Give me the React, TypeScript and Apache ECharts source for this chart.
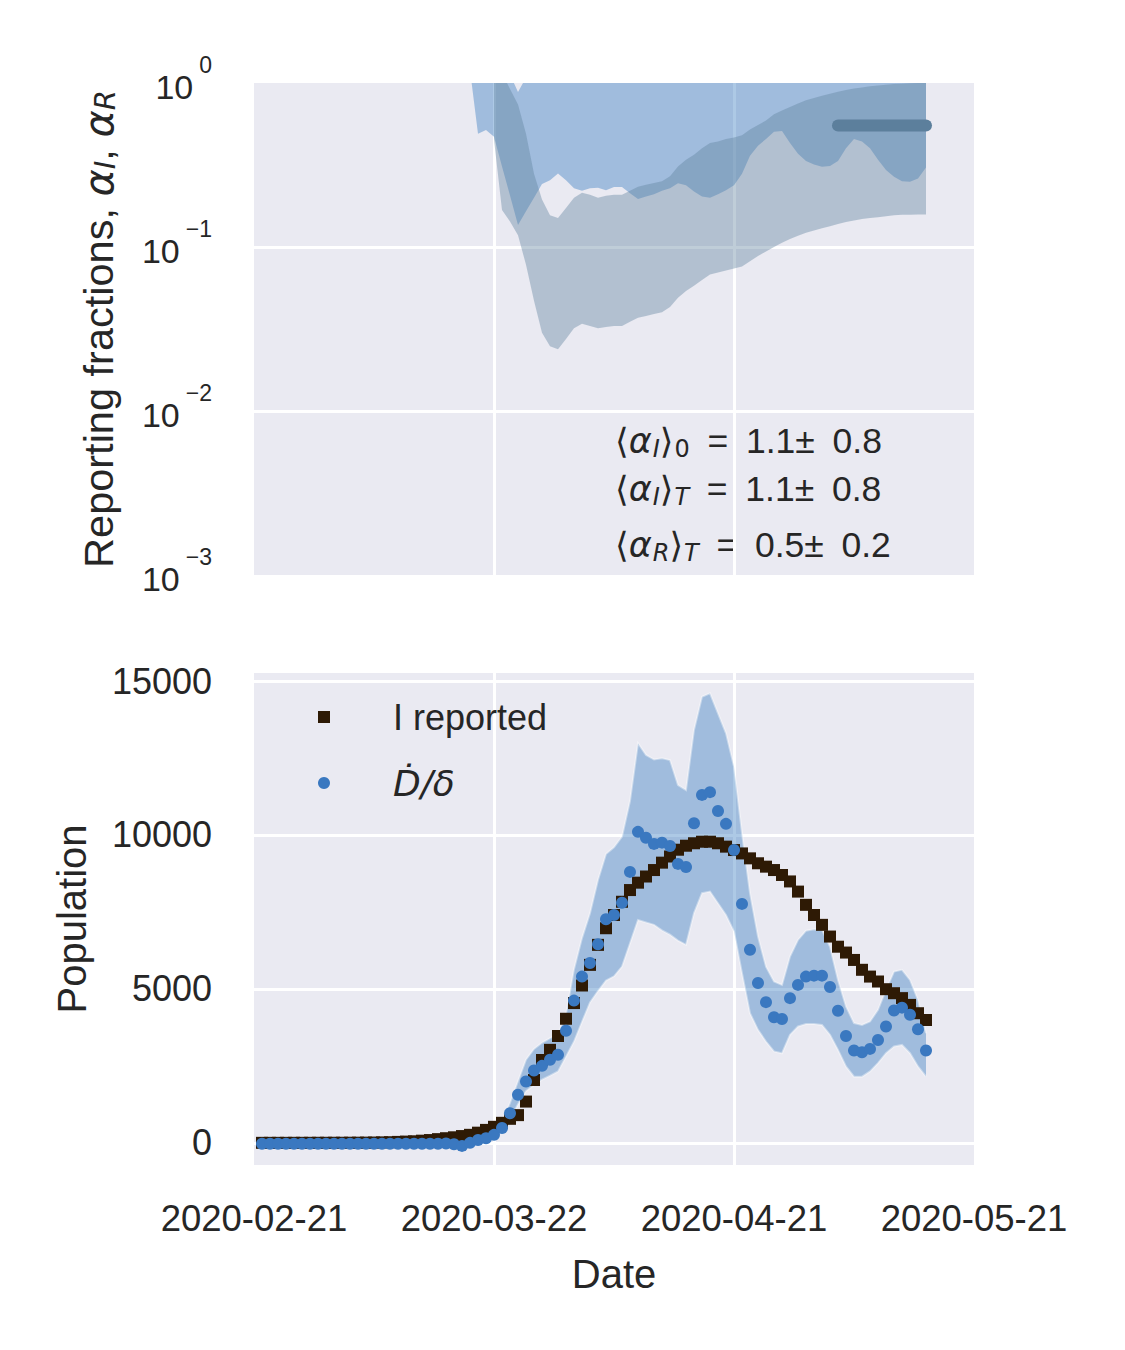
import React, { useEffect, useRef } from 'react';
import * as echarts from 'echarts';

// ---------- data ----------
const X_TICK_LABELS = ['2020-02-21', '2020-03-22', '2020-04-21', '2020-05-21'];

// Top panel: reporting fractions (days since 2020-02-21)
const ALPHA_I_START = 27;
const ALPHA_I_LOW = [1.2, 0.49, 0.517, 0.47, 0.31, 0.206, 0.136, 0.165, 0.2, 0.242, 0.255, 0.281, 0.255, 0.228, 0.22, 0.228, 0.23, 0.222, 0.232, 0.232, 0.213, 0.196, 0.203, 0.21, 0.22, 0.228, 0.245, 0.238, 0.218, 0.203, 0.2, 0.21, 0.222, 0.238, 0.28, 0.36, 0.415, 0.455, 0.505, 0.51, 0.43, 0.37, 0.335, 0.318, 0.309, 0.312, 0.335, 0.4, 0.455, 0.44, 0.4, 0.34, 0.295, 0.268, 0.252, 0.25, 0.262, 0.305];
const ALPHA_I_HIGH = [3, 3, 3, 3, 3, 1.13, 0.88, 1.08, 3, 3, 3, 3, 3, 3, 3, 3, 3, 3, 3, 3, 3, 3, 3, 3, 3, 3, 3, 3, 3, 3, 3, 3, 3, 3, 3, 3, 3, 3, 3, 3, 3, 3, 3, 3, 3, 3, 3, 3, 3, 3, 3, 3, 3, 3, 3, 3, 3, 3];
const ALPHA_R_START = 30;
const ALPHA_R_LOW = [0.45, 0.168, 0.143, 0.118, 0.078, 0.047, 0.03, 0.0248, 0.0238, 0.0275, 0.032, 0.034, 0.033, 0.032, 0.0325, 0.033, 0.033, 0.035, 0.037, 0.038, 0.039, 0.04, 0.043, 0.049, 0.054, 0.058, 0.063, 0.068, 0.07, 0.072, 0.074, 0.076, 0.082, 0.088, 0.094, 0.1, 0.106, 0.112, 0.117, 0.122, 0.126, 0.13, 0.134, 0.138, 0.142, 0.145, 0.148, 0.15, 0.152, 0.154, 0.156, 0.157, 0.157, 0.158, 0.158];
const ALPHA_R_HIGH = [2.8, 1.15, 0.92, 0.74, 0.49, 0.28, 0.195, 0.156, 0.15, 0.173, 0.2, 0.214, 0.208, 0.2, 0.205, 0.208, 0.208, 0.22, 0.233, 0.24, 0.246, 0.252, 0.27, 0.31, 0.34, 0.365, 0.4, 0.43, 0.44, 0.455, 0.466, 0.48, 0.52, 0.555, 0.59, 0.645, 0.68, 0.715, 0.75, 0.785, 0.81, 0.835, 0.86, 0.885, 0.905, 0.925, 0.94, 0.955, 0.967, 0.977, 0.985, 0.99, 0.995, 1.0, 1.0];
const ALPHA_R_MEAN_DAYS = [73, 84];
const ALPHA_R_MEAN = 0.55;

const ANNOT_NAMES = [['I', '0'], ['I', 'T'], ['R', 'T']];
const ANNOT_VALUES = [['1.1', '0.8'], ['1.1', '0.8'], ['0.5', '0.2']];

// Bottom panel: populations, days 1..84
const DATA_START = 1;
const I_REPORTED = [
  0, 0, 0, 0, 1, 1, 1, 2, 2, 3,
  3, 4, 5, 7, 10, 15, 20, 30, 40, 50,
  70, 90, 120, 150, 180, 220, 260, 330, 420, 520,
  650, 780, 900, 1340, 2040, 2690, 3020, 3470, 4030, 4540,
  5110, 5780, 6430, 6970, 7400, 7830, 8210, 8450, 8650, 8860,
  9100, 9300, 9520, 9650, 9730, 9780, 9780, 9730, 9620, 9510,
  9400, 9240, 9080, 8970, 8860, 8700, 8490, 8160, 7730, 7400,
  7080, 6700, 6370, 6180, 5940, 5620, 5400, 5240, 4990, 4860,
  4700, 4480, 4210, 3990,
];
const D_OVER_DELTA = [
  -30, -30, -30, -30, -30, -30, -30, -30, -30, -30,
  -30, -30, -30, -30, -30, -30, -30, -30, -30, -30,
  -30, -30, -30, -20, -45, -100, 0, 90, 150, 260,
  480, 960, 1560, 1990, 2350, 2500, 2700, 2860, 3640, 4620,
  5400, 5840, 6450, 7260, 7400, 7800, 8800, 10100, 9910, 9710,
  9750, 9640, 9060, 8960, 10380, 11300, 11390, 10780, 10360, 9510,
  7760, 6270, 5190, 4570, 4080, 4020, 4700, 5130, 5400, 5430,
  5430, 5060, 4290, 3470, 3000, 2940, 3050, 3340, 3780, 4300,
  4390, 4160, 3690, 3000,
];
const BAND_START = 26;
const BAND_LOW = [
  -130, -30, 40, 80, 150,
  380, 760, 1250, 1680, 1880, 2050, 2180, 2320, 2800, 3290,
  3930, 4560, 4930, 5270, 5410, 5725, 6480, 7240, 7160, 7080,
  6900, 6760, 6570, 6430, 7460, 8110, 8160, 7780, 7400, 6860,
  5510, 4210, 3670, 3290, 2970, 2910, 3510, 3780, 3860, 3860,
  3830, 3510, 3020, 2480, 2150, 2150, 2320, 2590, 2910, 3130,
  3180, 2910, 2480, 2150,
];
const BAND_HIGH = [
  -70, 50, 150, 250, 420,
  700, 1300, 2000, 2700, 3050, 3250, 3400, 3530, 4180, 5640,
  6650, 7460, 8540, 9380, 9600, 9950, 11100, 12980, 12600, 12450,
  12490, 12430, 11620, 11460, 13410, 14490, 14600, 13950, 13300, 12220,
  10060, 8110, 6700, 5720, 5240, 5130, 6050, 6590, 6890, 6940,
  6920, 6370, 5290, 4430, 3890, 3830, 3940, 4320, 4970, 5560,
  5620, 5290, 4640, 3560,
];
const Y_BOTTOM_TICKS = [0, 5000, 10000, 15000];

// ---------- styling ----------
const FONT = "'Liberation Sans', Arial, Helvetica, sans-serif";
const MATH = "'DejaVu Sans', 'Liberation Sans', sans-serif";
const TEXT = '#262626';
const BG = '#eaeaf2';
const BLUE_FILL = 'rgba(51,119,190,0.4)';
const SLATE_FILL = 'rgba(96,129,157,0.4)';
const SLATE = '#5c7f9c';
const DOT = '#3a78c0';
const SQUARE = '#2e1a05';

function rows(start: number, low: number[], high: number[]) {
  return low.map((v, i) => [start + i, v, high[i]]);
}
function pairs(start: number, vals: number[]) {
  return vals.map((v, i) => [start + i, v]);
}

function bandRender(data: number[][], fill: string, edge?: string) {
  return (params: any, api: any) => {
    if (params.dataIndex !== 0) return null;
    const upper = data.map((r) => api.coord([r[0], r[2]]));
    const lower = data.map((r) => api.coord([r[0], r[1]]));
    const cs = params.coordSys;
    const children: any[] = [
      { type: 'polygon', shape: { points: upper.concat(lower.slice().reverse()) }, style: { fill }, silent: true },
    ];
    if (edge) {
      children.push({ type: 'polyline', shape: { points: upper }, style: { stroke: edge, lineWidth: 2, fill: null }, silent: true });
      children.push({ type: 'polyline', shape: { points: lower }, style: { stroke: edge, lineWidth: 2, fill: null }, silent: true });
    }
    return {
      type: 'group',
      clipPath: { type: 'rect', shape: { x: cs.x, y: cs.y, width: cs.width, height: cs.height } },
      children,
    };
  };
}

function annotText(k: number) {
  const [a, b] = ANNOT_NAMES[k];
  const [m, s] = ANNOT_VALUES[k];
  const bTok = b === '0' ? 'r' : 's';
  return `{m|\u27e8}{a|α}{s|${a}}{m|\u27e9}{${bTok}|${b}}{n|\u2002=\u2002${m}±\u2002${s}}`;
}

const annotRich = {
  n: { fontSize: 35.5, fontFamily: FONT, lineHeight: 40, fill: TEXT },
  m: { fontSize: 35, fontFamily: MATH, lineHeight: 40, fill: TEXT },
  a: { fontSize: 35, fontFamily: MATH, fontStyle: 'italic', lineHeight: 40, fill: TEXT },
  s: { fontSize: 24, fontFamily: MATH, fontStyle: 'italic', lineHeight: 24, padding: [16, 0, 0, 1], fill: TEXT },
  r: { fontSize: 24, fontFamily: MATH, lineHeight: 24, padding: [16, 0, 0, 1], fill: TEXT },
};
const ANNOT_Y = [441, 489, 545];

const splitLine = { show: true, showMinLine: false, showMaxLine: false, lineStyle: { color: '#ffffff', width: 3 } };

const option: any = {
  animation: false,
  backgroundColor: '#ffffff',
  grid: [
    { left: 254, top: 83, width: 720, height: 492, show: true, backgroundColor: BG, borderWidth: 0 },
    { left: 254, top: 673, width: 720, height: 492, show: true, backgroundColor: BG, borderWidth: 0 },
  ],
  xAxis: [
    {
      gridIndex: 0, type: 'value', min: 0, max: 90, interval: 30,
      axisLine: { show: false }, axisTick: { show: false }, axisLabel: { show: false }, splitLine,
    },
    {
      gridIndex: 1, type: 'value', min: 0, max: 90, interval: 30,
      axisLine: { show: false }, axisTick: { show: false }, splitLine,
      axisLabel: {
        show: true, showMinLabel: true, showMaxLabel: true, margin: 35,
        fontSize: 36.5, fontFamily: FONT, color: TEXT,
        formatter: (v: number) => X_TICK_LABELS[Math.round(v / 30)] ?? '',
      },
      name: 'Date', nameLocation: 'middle', nameGap: 89,
      nameTextStyle: { fontSize: 40, fontFamily: FONT, color: TEXT },
    },
  ],
  yAxis: [
    {
      gridIndex: 0, type: 'log', logBase: 10, min: 0.001, max: 1,
      axisLine: { show: false }, axisTick: { show: false }, splitLine,
      axisLabel: {
        margin: 42,
        formatter: (v: number) => {
          const e = Math.round(Math.log10(v));
          return `{b|10}{s|${e < 0 ? '\u2212' + -e : e}}`;
        },
        rich: {
          b: { fontSize: 34, fontFamily: FONT, color: TEXT, lineHeight: 36, padding: [8, 0, 0, 0] },
          s: { fontSize: 23, fontFamily: FONT, color: TEXT, lineHeight: 23, padding: [0, 0, 36, 6] },
        },
      },
      name: 'Reporting fractions, {i|α}{u|I}, {i|α}{u|R}',
      nameLocation: 'middle', nameRotate: 90, nameGap: 134,
      nameTextStyle: {
        fontSize: 41.5, fontFamily: FONT, color: TEXT, lineHeight: 44,
        rich: {
          i: { fontSize: 41.5, fontFamily: MATH, fontStyle: 'italic', color: TEXT, lineHeight: 44 },
          u: { fontSize: 29, fontFamily: MATH, fontStyle: 'italic', color: TEXT, lineHeight: 29, padding: [14, 0, 0, 0] },
        },
      },
    },
    {
      gridIndex: 1, type: 'value', min: -720, max: 15260, splitNumber: 3,
      axisLine: { show: false }, axisTick: { show: false }, splitLine,
      axisLabel: {
        margin: 42, fontSize: 36, fontFamily: FONT, color: TEXT,
        formatter: (v: number) => (Y_BOTTOM_TICKS.indexOf(v) >= 0 ? String(v) : ''),
      },
      name: 'Population', nameLocation: 'middle', nameRotate: 90, nameGap: 162,
      nameTextStyle: { fontSize: 40, fontFamily: FONT, color: TEXT },
    },
  ],
  legend: {
    data: ['I reported', 'Ḋ/δ'],
    orient: 'vertical', left: 313, top: 694,
    itemWidth: 12, itemHeight: 12, itemGap: 30, selectedMode: false,
    formatter: (n: string) => (n === 'Ḋ/δ' ? '{it|Ḋ/δ}' : n),
    textStyle: {
      fontSize: 36, lineHeight: 36, fontFamily: FONT, color: TEXT, padding: [0, 0, 0, 58],
      rich: { it: { fontSize: 36, lineHeight: 36, fontFamily: MATH, fontStyle: 'italic', color: TEXT } },
    },
  },
  graphic: ANNOT_Y.map((y, k) => ({
    type: 'text', x: 615, y, silent: true,
    style: { text: annotText(k), rich: annotRich, verticalAlign: 'middle', fill: TEXT, fontSize: 35, fontFamily: FONT },
  })),
  series: [
    {
      type: 'custom', name: 'alphaI', xAxisIndex: 0, yAxisIndex: 0, silent: true,
      data: rows(ALPHA_I_START, ALPHA_I_LOW, ALPHA_I_HIGH), encode: { x: 0, y: [1, 2] },
      renderItem: bandRender(rows(ALPHA_I_START, ALPHA_I_LOW, ALPHA_I_HIGH), BLUE_FILL),
    },
    {
      type: 'custom', name: 'alphaR', xAxisIndex: 0, yAxisIndex: 0, silent: true,
      data: rows(ALPHA_R_START, ALPHA_R_LOW, ALPHA_R_HIGH), encode: { x: 0, y: [1, 2] },
      renderItem: bandRender(rows(ALPHA_R_START, ALPHA_R_LOW, ALPHA_R_HIGH), SLATE_FILL),
    },
    {
      type: 'line', name: 'alphaRMean', xAxisIndex: 0, yAxisIndex: 0, silent: true, symbol: 'none',
      data: ALPHA_R_MEAN_DAYS.map((d) => [d, ALPHA_R_MEAN]),
      lineStyle: { color: SLATE, width: 12, cap: 'round' },
    },
    {
      type: 'custom', name: 'band', xAxisIndex: 1, yAxisIndex: 1, silent: true,
      data: rows(BAND_START, BAND_LOW, BAND_HIGH), encode: { x: 0, y: [1, 2] },
      renderItem: bandRender(rows(BAND_START, BAND_LOW, BAND_HIGH), BLUE_FILL, 'rgba(255,255,255,0.4)'),
    },
    {
      type: 'scatter', name: 'I reported', xAxisIndex: 1, yAxisIndex: 1, silent: true,
      symbol: 'rect', symbolSize: 12, itemStyle: { color: SQUARE, opacity: 1 },
      data: pairs(DATA_START, I_REPORTED),
    },
    {
      type: 'scatter', name: 'Ḋ/δ', xAxisIndex: 1, yAxisIndex: 1, silent: true,
      symbol: 'circle', symbolSize: 12, itemStyle: { color: DOT, opacity: 1 },
      data: pairs(DATA_START, D_OVER_DELTA),
    },
  ],
};

export default function App() {
  const ref = useRef<HTMLDivElement>(null);
  useEffect(() => {
    const chart = echarts.init(ref.current as HTMLDivElement, null, { renderer: 'svg' });
    chart.setOption(option);
    return () => chart.dispose();
  }, []);
  return <div ref={ref} style={{ position: 'absolute', left: 0, top: 0, width: 1125, height: 1350 }} />;
}
